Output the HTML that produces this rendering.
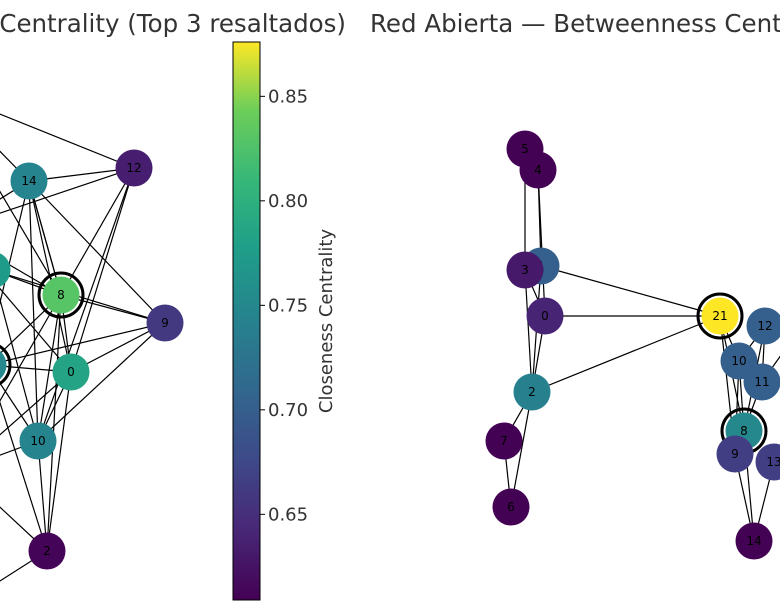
<!DOCTYPE html>
<html><head><meta charset="utf-8"><style>
html,body{margin:0;padding:0;background:#fff;width:780px;height:613px;overflow:hidden}
svg{display:block;font-family:"DejaVu Sans","Liberation Sans",sans-serif}
</style></head><body>
<svg id="fig" width="780" height="613" viewBox="0 0 780 613">
<defs>
<linearGradient id="viridis" x1="0" y1="1" x2="0" y2="0">
<stop offset="0" stop-color="#440154"/><stop offset="0.13" stop-color="#482878"/>
<stop offset="0.25" stop-color="#3e4989"/><stop offset="0.38" stop-color="#31688e"/>
<stop offset="0.5" stop-color="#26828e"/><stop offset="0.63" stop-color="#1f9e89"/>
<stop offset="0.75" stop-color="#35b779"/><stop offset="0.88" stop-color="#6ece58"/>
<stop offset="1" stop-color="#fde725"/></linearGradient>
</defs>
<text x="346" y="32" text-anchor="end" font-size="24.5" fill="#333">Closeness Centrality (Top 3 resaltados)</text>
<text x="370" y="32" font-size="24.5" fill="#333">Red Abierta — Betweenness Centrality</text>
<g id="left"></g>
<g id="right"></g>
<g id="cbar">
<rect x="233" y="42" width="27" height="558" fill="url(#viridis)" stroke="#000" stroke-width="1"/>
</g>
<text transform="translate(332,321) rotate(-90)" text-anchor="middle" font-size="18" fill="#333">Closeness Centrality</text>
</svg>
<script>
const NS="http://www.w3.org/2000/svg";
const cbTicks=[0.65,0.70,0.75,0.80,0.85];
const cbMin=0.609, cbMax=0.876;
const leftIds=["12","14","8","9","0","10","2","A","B","C","D","E","F"];
const leftX=[134,29,61,165,71,38,47,-8,-12,-60,-50,-40,-30];
const leftY=[168,181,295,323,372,441,551,270,365,90,230,470,600];
const leftVal=[0.635,0.745,0.83,0.66,0.785,0.745,0.612,0.775,0.75,0.7,0.72,0.7,0.68];
const leftRing=["8","B"];
const leftEdges=[["C","12"],["14","12"],["8","12"],["0","12"],["D","12"],["10","12"],["C","14"],["14","8"],["14","8"],["14","0"],["14","9"],["14","D"],["14","10"],["14","E"],["8","9"],["8","0"],["8","10"],["8","2"],["8","A"],["8","D"],["8","E"],["8","B"],["8","C"],["9","0"],["9","10"],["9","B"],["9","A"],["0","10"],["0","2"],["0","B"],["0","E"],["0","D"],["10","2"],["10","B"],["10","E"],["10","A"],["2","E"],["2","F"],["2","B"],["A","C"],["B","E"]];
const rightIds=["5","4","1","3","0","2","7","6","21","12","10","11","8","9","13","14","R1","R2"];
const rightX=[525,538,541,525,545,532,504,511,720,765,739,762,744,735,774,754,820,830];
const rightY=[149,170,266,270,316,392,441,507,316,326,361,382,431,454,462,541,300,400];
const rightVal=[0.61,0.61,0.70,0.63,0.64,0.74,0.61,0.61,0.876,0.70,0.70,0.70,0.75,0.665,0.665,0.61,0.65,0.65];
const rightRing=["21","8"];
const rightEdges=[["5","3"],["4","1"],["4","0"],["3","0"],["3","2"],["1","2"],["0","2"],["1","21"],["0","21"],["2","21"],["2","7"],["2","6"],["7","6"],["21","10"],["21","8"],["21","9"],["12","10"],["12","11"],["12","8"],["10","8"],["11","8"],["10","9"],["8","14"],["9","14"],["13","14"],["11","R1"],["12","R1"],["13","R2"]];
const stops=[[0,[68,1,84]],[0.13,[72,40,120]],[0.25,[62,73,137]],[0.38,[49,104,142]],[0.5,[38,130,142]],[0.63,[31,158,137]],[0.75,[53,183,121]],[0.88,[110,206,88]],[1,[253,231,37]]];
function cmap(v){let t=(v-cbMin)/(cbMax-cbMin);t=Math.max(0,Math.min(1,t));
for(let i=1;i<stops.length;i++){if(t<=stops[i][0]){const a=stops[i-1],b=stops[i],f=(t-a[0])/(b[0]-a[0]);
return "rgb("+a[1].map((c,k)=>Math.round(c+(b[1][k]-c)*f)).join(",")+")";}}return "rgb(253,231,37)";}
function cbY(v){return 600-(v-cbMin)/(cbMax-cbMin)*558;}
function el(t,a,p){const e=document.createElementNS(NS,t);for(const k in a)e.setAttribute(k,a[k]);p.appendChild(e);return e;}
function drawNet(g,ids,xs,ys,vals,ring,edges,prefix){
 const idx=id=>ids.indexOf(id);
 edges.forEach(([a,b])=>{const i=idx(a),j=idx(b);
  const l=el("line",{x1:xs[i],y1:ys[i],x2:xs[j],y2:ys[j],stroke:"#000","stroke-width":1.2},g);
  
  });
 ids.forEach((id,i)=>{
  if(ring.includes(id)){const r=el("circle",{cx:xs[i],cy:ys[i],r:22,fill:"none",stroke:"#000","stroke-width":3},g);
   
   }
  const c=el("circle",{cx:xs[i],cy:ys[i],r:18.5,fill:cmap(vals[i])},g);
  
  
  if(!/^[A-Z]/.test(id)){const t=el("text",{x:xs[i],y:ys[i]+4,"text-anchor":"middle","font-size":12,fill:"#000"},g);
   t.textContent=id;
   
   }
 });}
drawNet(document.getElementById("left"),leftIds,leftX,leftY,leftVal,leftRing,leftEdges,"closeness");
drawNet(document.getElementById("right"),rightIds,rightX,rightY,rightVal,rightRing,rightEdges,"betweenness");
const cb=document.getElementById("cbar");
cbTicks.forEach(v=>{const y=cbY(v);
 const l=el("line",{x1:260,y1:y,x2:265,y2:y,stroke:"#000","stroke-width":1},cb);
 
 
 const t=el("text",{x:268,y:y+6,"font-size":18,fill:"#333"},cb);
 t.textContent=v.toFixed(2);
 
 });
</script>
</body></html>
